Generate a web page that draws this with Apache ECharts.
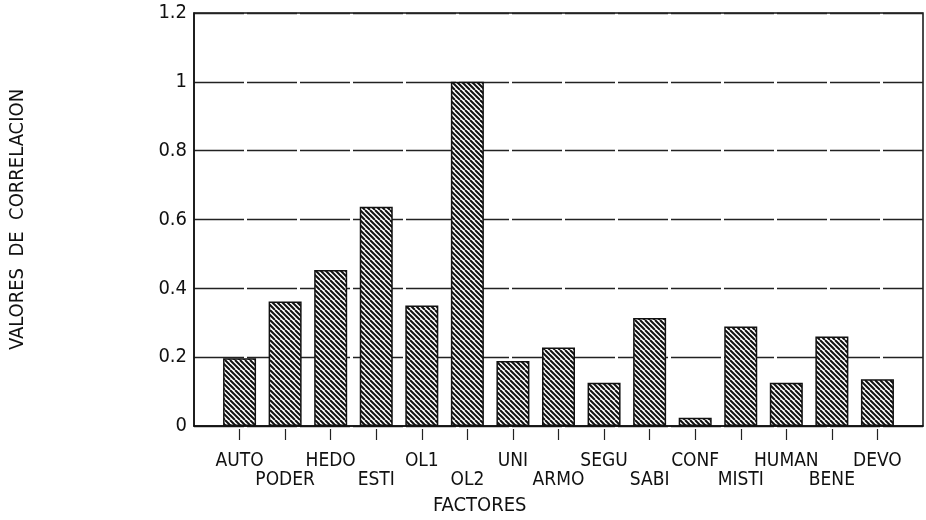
<!DOCTYPE html>
<html>
<head>
<meta charset="utf-8">
<script src="https://cdn.jsdelivr.net/npm/echarts@6/dist/echarts.min.js"></script>
<style>
html,body{margin:0;padding:0;background:#fff;}
#chart{width:926px;height:520px;}
</style>
</head>
<body>
<div id="chart"></div>
<script>
const categories = ['AUTO','PODER','HEDO','ESTI','OL1','OL2','UNI','ARMO','SEGU','SABI','CONF','MISTI','HUMAN','BENE','DEVO'];
const values = [0.197,0.362,0.453,0.637,0.350,1.0,0.189,0.228,0.126,0.314,0.024,0.289,0.126,0.260,0.136];
const yTicks = [0, 0.2, 0.4, 0.6, 0.8, 1, 1.2];
const xTitle = 'FACTORES';
const yTitle = 'VALORES  DE  CORRELACION';

const FONT = "'Liberation Sans Narrow', 'DejaVu Sans Condensed', 'Liberation Sans', sans-serif";

// padded category list (blank slots at each end)
const axisCats = [''].concat(categories, ['']);
const axisVals = ['-'].concat(values, ['-']);

// hatch pattern
const T = 10;
const tile = document.createElement('canvas');
tile.width = T; tile.height = T;
const c = tile.getContext('2d');
c.fillStyle = '#fff';
c.fillRect(0,0,T,T);
c.strokeStyle = '#111';
c.lineWidth = 2.0;
for (let o = -T; o <= T; o += T / 2) {
  c.beginPath();
  c.moveTo(o, 0);
  c.lineTo(o + T, T);
  c.stroke();
}

const chart = echarts.init(document.getElementById('chart'), null, {renderer:'canvas'});
chart.setOption({
  backgroundColor: '#fff',
  animation: false,
  grid: {left: 191, right: 3, top: 13, bottom: 94, show: true, borderColor: '#111', borderWidth: 1.5, backgroundColor: 'transparent'},
  xAxis: [{
    type: 'category',
    data: axisCats,
    boundaryGap: false,
    axisLine: {show: true, lineStyle: {color: '#111', width: 1.5}},
    axisTick: {show: false},
    axisLabel: {
      show: true, interval: 0, margin: 26,
      fontFamily: FONT, fontSize: 19, color: '#111', lineHeight: 19,
      formatter: function (v, i) { return (i % 2 === 0) ? '\n' + v : v; }
    },
    splitLine: {show: false}
  }, {
    type: 'category',
    data: axisCats,
    boundaryGap: false,
    position: 'bottom',
    offset: 3,
    axisLine: {show: false},
    axisTick: {show: true, length: 11, lineStyle: {color: '#222', width: 1.2},
      interval: function (i, v) { return v !== ''; }},
    axisLabel: {show: false},
    splitLine: {show: false}
  }],
  yAxis: {
    type: 'value',
    min: yTicks[0], max: yTicks[yTicks.length - 1], interval: 0.2,
    name: yTitle, nameLocation: 'middle', nameGap: 166, nameRotate: 90,
    nameTextStyle: {fontFamily: FONT, fontSize: 20, color: '#111'},
    axisLine: {show: true, lineStyle: {color: '#111', width: 1.5}},
    axisTick: {show: false},
    axisLabel: {fontFamily: FONT, fontSize: 20, color: '#111', margin: 7,
      formatter: function (v) { return String(Math.round(v * 10) / 10); }},
    splitLine: {show: true, lineStyle: {color: '#222', width: 1.3, type: [50, 3]}}
  },
  series: [{
    type: 'bar',
    xAxisIndex: 0,
    data: axisVals,
    barWidth: 33,
    itemStyle: {color: {image: tile, repeat: 'repeat'}, borderColor: '#111', borderWidth: 1.5}
  }],
  graphic: [{
    type: 'text', left: 433, top: 496,
    style: {text: xTitle, font: '20px ' + FONT, fill: '#111'}
  }]
});
</script>
</body>
</html>
